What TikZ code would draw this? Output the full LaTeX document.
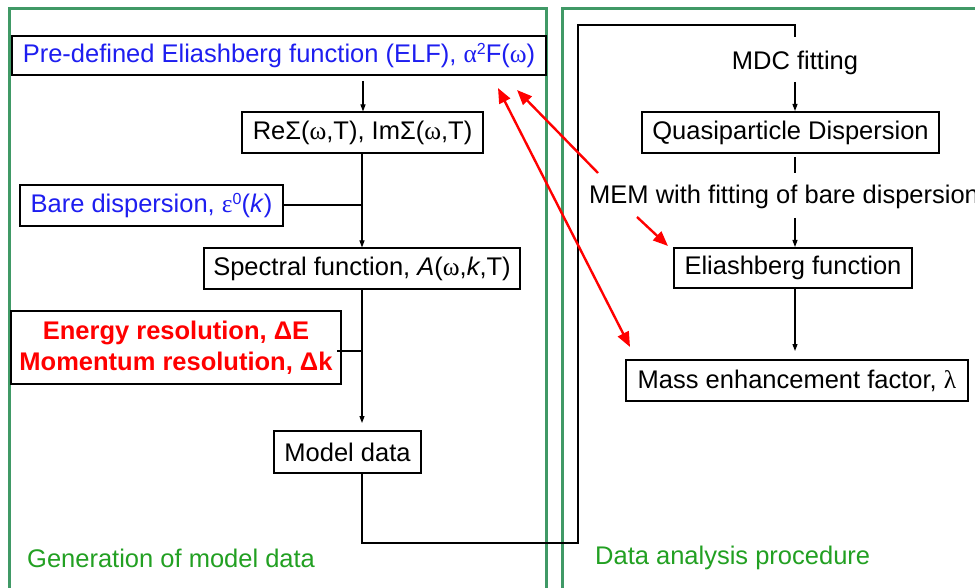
\documentclass[tikz,border=0pt]{standalone}
\usepackage{fontspec}
\setmainfont{Liberation Sans}
\newfontfamily\gk{Liberation Serif}
\usetikzlibrary{arrows.meta}
\definecolor{framegreen}{RGB}{64,153,102}
\definecolor{textgreen}{RGB}{34,160,34}
\definecolor{txtblue}{RGB}{30,30,240}
\definecolor{txtred}{RGB}{255,0,0}
\newcommand{\fsz}{\fontsize{25.5}{30}\selectfont}
\newcommand{\sups}[1]{\raisebox{0.55ex}{\fontsize{16}{18}\selectfont #1}}
\begin{document}
\begin{tikzpicture}[x=1pt,y=-1pt,
  box/.style={draw=black,line width=1.1pt,fill=white,inner sep=0pt,align=center,font=\fsz},
  lbl/.style={inner sep=0pt,font=\fsz},
  conn/.style={draw=black,line width=1.1pt},
  arr/.style={conn,-{Triangle[length=7pt,width=5pt]}},
  redarr/.style={draw=txtred,line width=2.4pt,-{Triangle[length=15pt,width=12pt]}},
  redarrr/.style={draw=txtred,line width=2.4pt,{Triangle[length=15pt,width=12pt]}-{Triangle[length=15pt,width=12pt]}},
  frame/.style={draw=framegreen,line width=3pt}
]
\clip (0,0) rectangle (975,588);
\fill[white] (0,0) rectangle (975,588);
% frames
\draw[frame] (9,600) -- (9,9) -- (546,9) -- (546,600);
\draw[frame] (562,600) -- (562,9) -- (990,9);
% left column
\node[box,minimum width=534pt,minimum height=39pt] (elf) at (279,55.5)
  {\color{txtblue}Pre-defined Eliashberg function (ELF), {\gk α}\sups{2}F({\gk ω})};
\node[box,minimum width=241pt,minimum height=41pt] (re) at (362.5,132.5)
  {ReΣ({\gk ω},T), ImΣ({\gk ω},T)};
\node[box,minimum width=263pt,minimum height=41pt] (bare) at (151.5,205.5)
  {\color{txtblue}Bare dispersion, {\gk ε}\sups{0}(\textit{k})};
\node[box,minimum width=316pt,minimum height=41pt] (spec) at (362,268.5)
  {Spectral function, \textit{A}({\gk ω},\textit{k},T)};
\node[box,minimum width=330pt,minimum height=73pt,font=\fsz\bfseries] (eres) at (176,347.5)
  {\color{txtred}Energy resolution, ΔE\\[1pt]\color{txtred}Momentum resolution, Δk};
\node[box,minimum width=147pt,minimum height=42pt] (model) at (347.5,452) {Model data};
\node[lbl,anchor=west,text=textgreen] (gen) at (27,558) {Generation of model data};
% right column
\node[lbl] (mdc) at (795,63) {MDC fitting};
\node[box,minimum width=297pt,minimum height=41pt] (qp) at (790.5,132.5) {Quasiparticle Dispersion};
\node[lbl,anchor=west] (mem) at (589,197) {MEM with fitting of bare dispersion};
\node[box,minimum width=238pt,minimum height=40pt] (eli) at (793,268) {Eliashberg function};
\node[box,minimum width=342pt,minimum height=41pt] (mass) at (797,380.5) {Mass enhancement factor, {\gk λ}};
\node[lbl,anchor=west,text=textgreen] (dap) at (595,558) {Data analysis procedure};
% left connectors
\coordinate (c1) at (363,81);
\draw[arr] (c1) -- (c1 |- re.north);
\coordinate (c2) at (362,153);
\draw[arr] (c2) -- (c2 |- spec.north);
\coordinate (j1) at (362,205);
\draw[conn] (bare.east |- j1) -- (j1);
\coordinate (c3) at (362,289);
\draw[arr] (c3) -- (362,423);
\coordinate (j2) at (362,351);
\draw[conn] (337,351) -- (j2);
% loop from model data to MDC fitting
\coordinate (c4) at (362,473);
\coordinate (lp1) at (362,543);
\coordinate (lp2) at (578,543);
\coordinate (lp3) at (578,25);
\coordinate (lp4) at (795,25);
\coordinate (lp5) at (795,37);
\draw[conn] (c4) -- (lp1) -- (lp2) -- (lp3) -- (lp4) -- (lp5);
% right connectors
\coordinate (c5) at (795,82);
\draw[arr] (c5) -- (795,111);
\draw[conn] (795,157) -- (795,173);
\coordinate (c6) at (795,218);
\draw[arr] (c6) -- (795,247);
\coordinate (c7) at (795,288);
\draw[arr] (c7) -- (795,351);
% red arrows
\coordinate (r1s) at (598,173);
\coordinate (r1e) at (517,90);
\draw[redarr] (r1s) -- (r1e);
\coordinate (r2s) at (498,88);
\coordinate (r2e) at (630,347);
\draw[redarrr] (r2s) -- (r2e);
\coordinate (r3s) at (637,217);
\coordinate (r3e) at (668,246);
\draw[redarr] (r3s) -- (r3e);
\end{tikzpicture}
\end{document}
